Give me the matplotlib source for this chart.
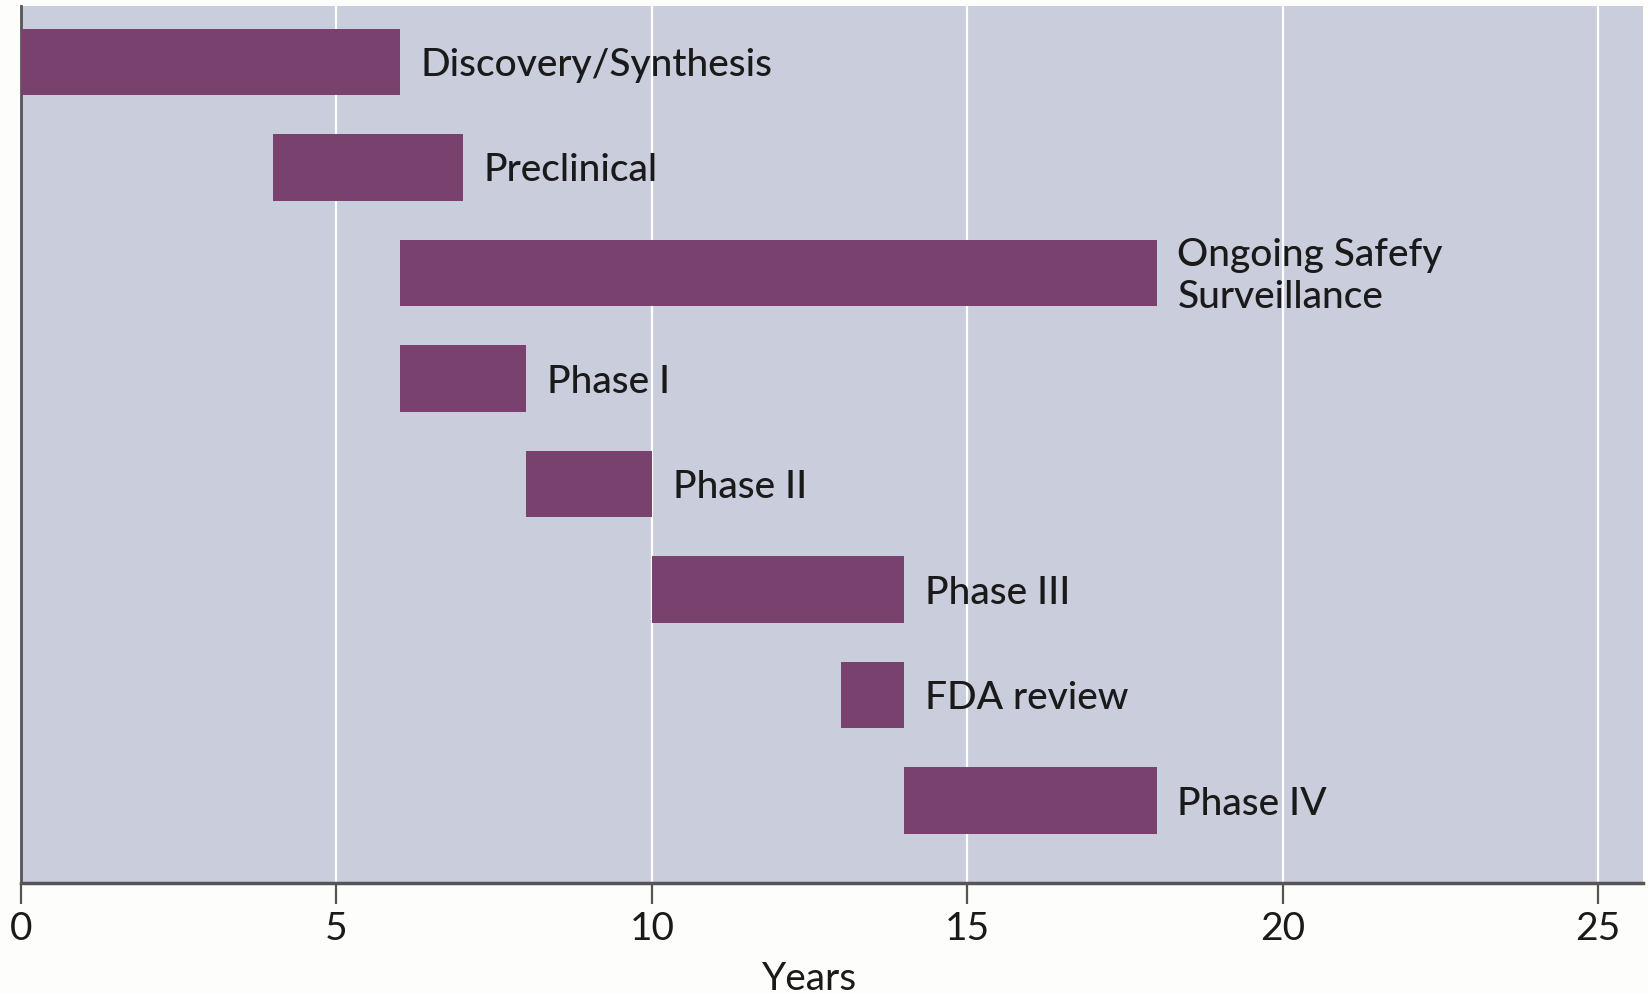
import matplotlib
matplotlib.use("Agg")
import matplotlib.pyplot as plt
import matplotlib.transforms as mtransforms

phases = ["Discovery/Synthesis", "Preclinical", "Ongoing Safefy\nSurveillance",
          "Phase I", "Phase II", "Phase III", "FDA review", "Phase IV"]
starts = [0, 4, 6, 6, 8, 10, 13, 14]
ends = [6, 7, 18, 8, 10, 14, 14, 18]
xticks = [0, 5, 10, 15, 20, 25]
xlabel = "Years"

FONT = ["Lato", "DejaVu Sans"]
plt.rcParams["font.family"] = FONT

fig = plt.figure(figsize=(16.48, 9.94), dpi=100)
fig.patch.set_facecolor("#FDFDFB")
ax = fig.add_axes([21 / 1648, 111 / 994, 1622 / 1648, 877 / 994])
ax.set_facecolor("#C9CDDC")

ypos = list(range(len(phases)))
widths = [e - s for s, e in zip(starts, ends)]
ax.barh(ypos, widths, left=starts, height=0.63, color="#78416E", zorder=3)

for y, e, name in zip(ypos, ends, phases):
    ax.annotate(name, xy=(e, y), xytext=(15, -2.5), textcoords="offset points",
                va="center", ha="left", fontsize=28, color="#1A1A1A",
                fontweight="medium", linespacing=1.25, zorder=4)

ax.set_xlim(0, 25.71)
ax.set_ylim(7.78, -0.53)
ax.set_xticks(xticks)
ax.set_xticklabels([str(t) for t in xticks], fontsize=28, color="#1A1A1A")
ax.set_yticks([])
ax.tick_params(axis="x", direction="out", length=15, width=1.6, color="#555555", pad=5)

ax.grid(axis="x", color="white", linewidth=1.6, zorder=1)
ax.set_axisbelow(True)

for s in ["top", "right"]:
    ax.spines[s].set_visible(False)
ax.spines["left"].set_color("#555555")
ax.spines["left"].set_linewidth(2.0)
ax.spines["bottom"].set_color("#555555")
ax.spines["bottom"].set_linewidth(2.5)

trans = mtransforms.blended_transform_factory(ax.transData, fig.transFigure)
ax.text(12.5, 4 / 994, xlabel, transform=trans, ha="center", va="baseline",
        fontsize=28, color="#1A1A1A")

fig.savefig("out.png", dpi=100, facecolor=fig.get_facecolor())
